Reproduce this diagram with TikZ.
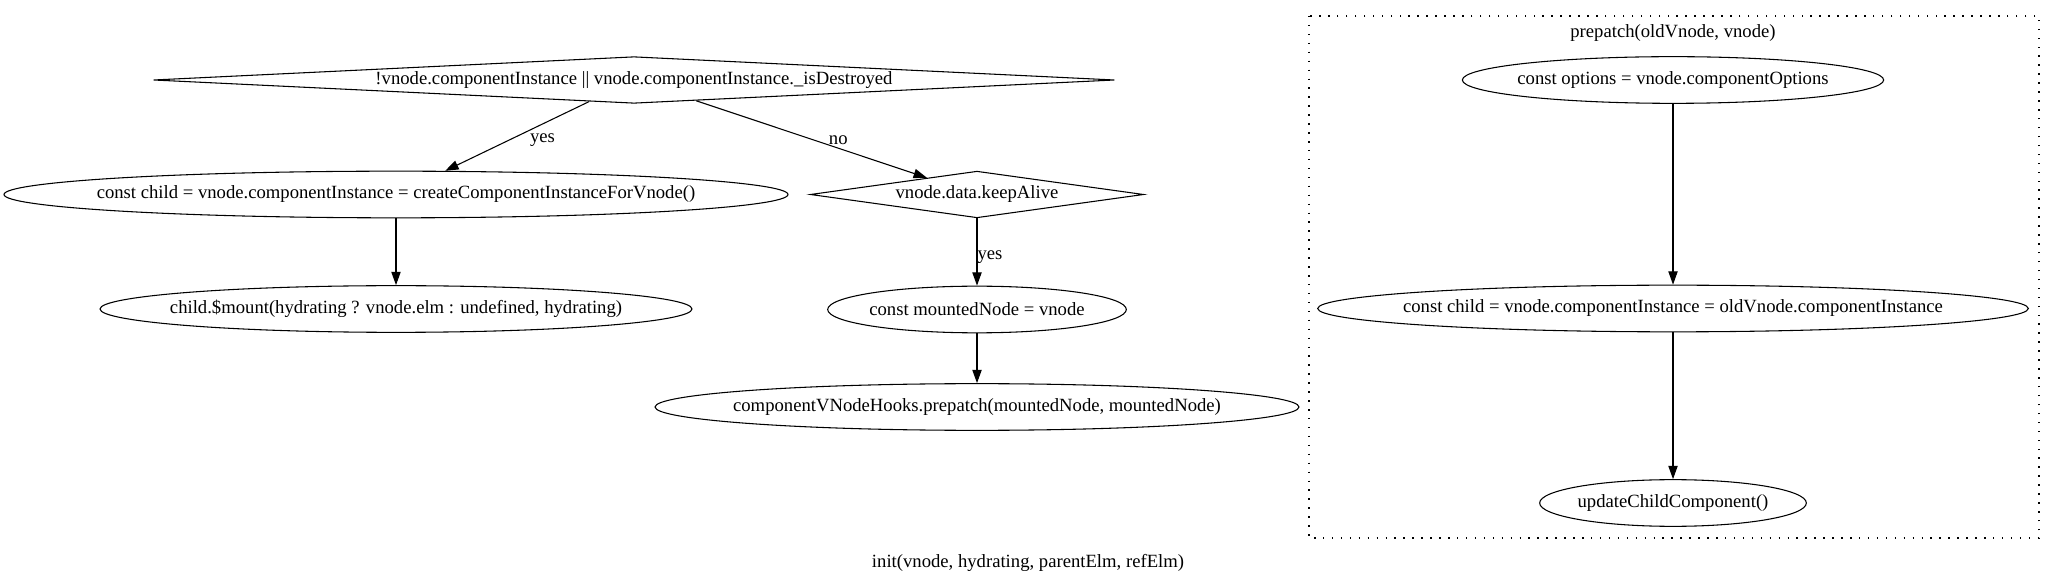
\documentclass[tikz,border=0pt]{standalone}
\usepackage{fontspec}
\setmainfont{Liberation Serif}
\usetikzlibrary{arrows.meta,shapes.geometric}
\newcommand{\ctr}[1]{\makebox[0pt]{#1}}
\begin{document}
\begin{tikzpicture}[x=0.75pt,y=-0.75pt,font=\fontsize{14}{17}\selectfont]
	\tikzstyle{stmt}=[ellipse,draw=black,line width=0.8pt,inner sep=0pt,minimum height=35pt]
	\tikzstyle{decision}=[diamond,draw=black,line width=0.8pt,inner sep=0pt,minimum height=35pt]
	\tikzstyle{flow}=[line width=0.8pt,-{Triangle[length=10pt,width=7pt]}]
	\tikzstyle{clusterbox}=[line width=0.9pt,dash pattern=on 1.1pt off 5.6pt]
	\useasboundingbox (0,0) rectangle (2056,584);
	% init
	\node[decision,minimum width=721pt] (cond) at (634,80) {\ctr{!vnode.componentInstance || vnode.componentInstance.\_isDestroyed}};
	\node[stmt,minimum width=588pt] (create) at (396,194.5) {\ctr{const child = vnode.componentInstance = createComponentInstanceForVnode()}};
	\node[stmt,minimum width=444pt] (mount) at (396,309) {\ctr{child.\$mount(hydrating ? vnode.elm : undefined, hydrating)}};
	\node[decision,minimum width=250pt] (keep) at (977,194.5) {\ctr{vnode.data.keepAlive}};
	\node[stmt,minimum width=224pt] (mounted) at (977,309.5) {\ctr{const mountedNode = vnode}};
	\node[stmt,minimum width=483pt] (pcall) at (977,407) {\ctr{componentVNodeHooks.prepatch(mountedNode, mountedNode)}};
	\node (gtitle) at (1028,563) {init(vnode, hydrating, parentElm, refElm)};
	\draw[flow] (cond) -- (create) node[midway,xshift=19pt,yshift=-3pt] {yes};
	\draw[flow] (cond) -- (keep) node[midway,xshift=20pt,yshift=-1pt] {no};
	\draw[flow] (create) -- (mount);
	\draw[flow] (keep) -- (mounted) node[midway,anchor=west,inner sep=0pt,yshift=-4pt] {yes};
	\draw[flow] (mounted) -- (pcall);
	% prepatch
	\draw[clusterbox] (1309,16) rectangle (2039,538);
	\node (ptitle) at (1673,33) {prepatch(oldVnode, vnode)};
	\node[stmt,minimum width=316pt] (opts) at (1673,80) {\ctr{const options = vnode.componentOptions}};
	\node[stmt,minimum width=533pt] (child) at (1673,308.5) {\ctr{const child = vnode.componentInstance = oldVnode.componentInstance}};
	\node[stmt,minimum width=200pt] (update) at (1673,503) {\ctr{updateChildComponent()}};
	\draw[flow] (opts) -- (child);
	\draw[flow] (child) -- (update);
\end{tikzpicture}
\end{document}
